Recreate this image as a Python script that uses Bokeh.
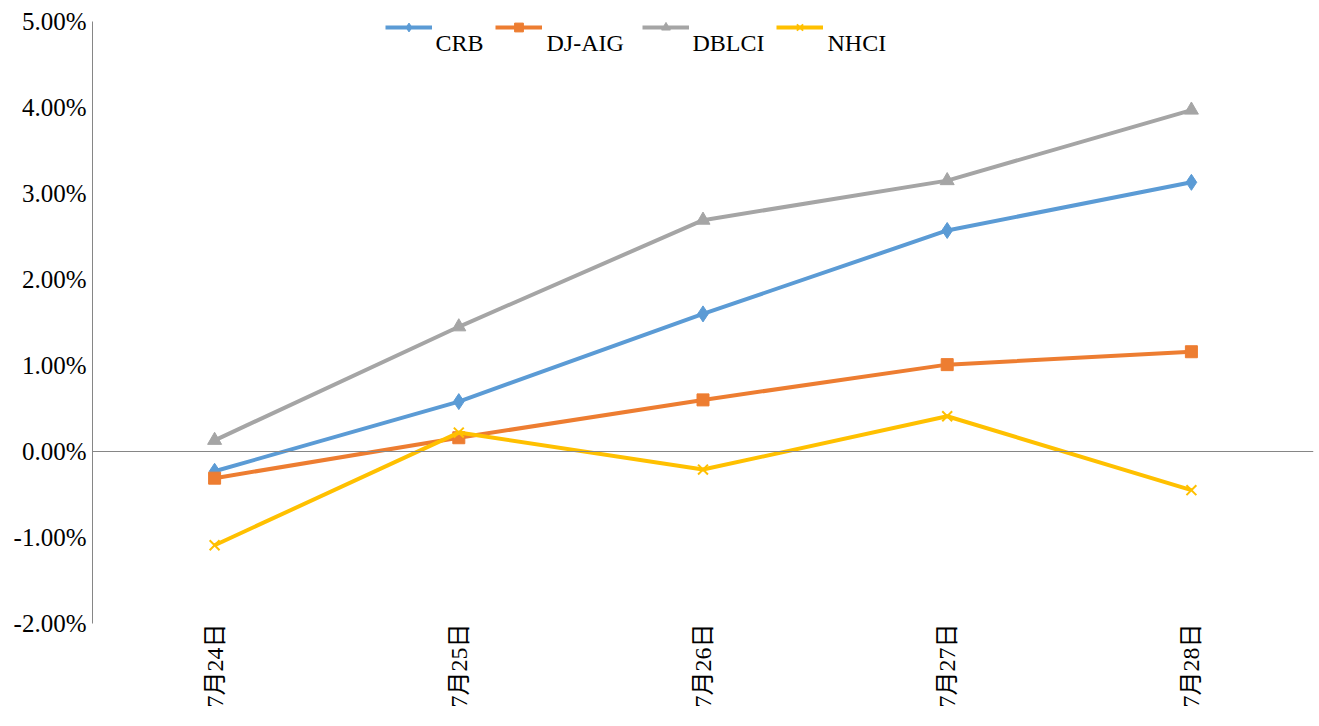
import math
from bokeh.plotting import figure
from bokeh.models import (FactorRange, Range1d, Span, NumeralTickFormatter, FixedTicker,
                          Legend, LegendItem, ColumnDataSource, Label)
from bokeh.embed import file_html
from bokeh.resources import INLINE

dates = ["7月24日", "7月25日", "7月26日", "7月27日", "7月28日"]
crb = [-0.0023, 0.0058, 0.0160, 0.0257, 0.0313]
djaig = [-0.0031, 0.0016, 0.0060, 0.0101, 0.0116]
dblci = [0.0013, 0.0145, 0.0269, 0.0315, 0.0397]
nhci = [-0.0109, 0.0022, -0.0021, 0.0041, -0.0045]
y_ticks = [-0.02, -0.01, 0.0, 0.01, 0.02, 0.03, 0.04, 0.05]

FONT = "'Liberation Serif', 'Noto Sans CJK SC', serif"

p = figure(width=1319, height=726, x_range=FactorRange(*dates, range_padding=0),
           y_range=Range1d(-0.02, 0.05), output_backend="svg", toolbar_location=None,
           min_border_left=92, min_border_top=21, min_border_right=6, min_border_bottom=103)
p.outline_line_color = None
p.xgrid.grid_line_color = None
p.ygrid.grid_line_color = None

p.yaxis.ticker = FixedTicker(ticks=y_ticks)
p.yaxis.formatter = NumeralTickFormatter(format="0.00%")
p.yaxis.axis_line_color = "#868686"
p.yaxis.major_tick_line_color = None
p.yaxis.minor_tick_line_color = None
p.yaxis.major_label_text_font = FONT
p.yaxis.major_label_text_font_size = "25px"
p.yaxis.major_label_text_color = "#000000"
p.yaxis.major_label_standoff = 0

p.xaxis.axis_line_color = None
p.xaxis.major_tick_line_color = None
p.xaxis.minor_tick_line_color = None
p.xaxis.major_label_orientation = math.pi / 2
p.xaxis.major_label_text_font = FONT
p.xaxis.major_label_text_font_size = "24px"
p.xaxis.major_label_text_color = "#000000"
p.xaxis.major_label_standoff = -6

p.add_layout(Span(location=0, dimension="width", line_color="#868686", line_width=1))

series = [
    ("CRB", crb, "#5B9BD5", "diamond", 16),
    ("DJ-AIG", djaig, "#ED7D31", "square", 12),
    ("DBLCI", dblci, "#A5A5A5", "triangle", 14),
    ("NHCI", nhci, "#FFC000", "x", 14),
]
# legend layout (screen px relative to the plot frame)
legend_glyph_x = [293, 403, 550, 684]
legend_text_x = [343, 454, 600, 735]

for (name, vals, color, marker, size), gx, tx in zip(series, legend_glyph_x, legend_text_x):
    src = ColumnDataSource(dict(x=dates, y=vals))
    r1 = p.line("x", "y", source=src, line_color=color, line_width=4)
    r2 = p.scatter("x", "y", source=src, marker=marker, size=size, fill_color=color,
                   line_color=color, line_width=2 if marker == "x" else 1)
    lg = Legend(items=[LegendItem(label="", renderers=[r1, r2])], location=(gx, 585),
                orientation="horizontal", border_line_color=None, background_fill_alpha=0,
                glyph_width=47, glyph_height=22, label_width=0, label_height=22,
                label_standoff=0, margin=0, padding=0)
    p.add_layout(lg)
    p.add_layout(Label(x=tx, y=581, x_units="screen", y_units="screen", text=name,
                       text_font=FONT, text_font_size="24px", text_color="#000000",
                       text_baseline="middle", text_align="left"))

open("out.html", "w").write(file_html(p, INLINE))
